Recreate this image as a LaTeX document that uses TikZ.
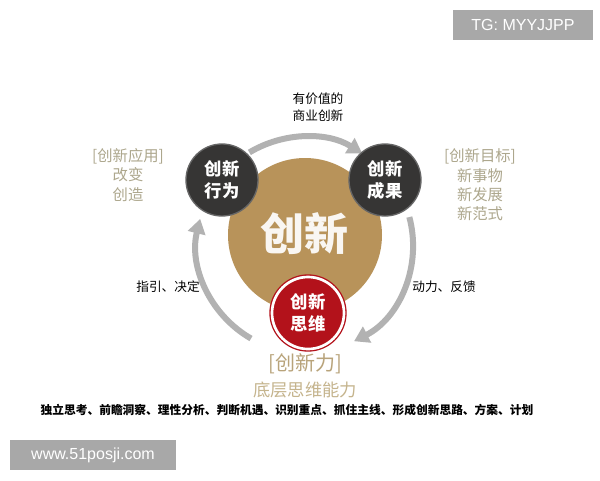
\documentclass[tikz,border=0pt]{standalone}
\usepackage{fontspec}
\setmainfont{Noto Sans CJK SC}
\newfontfamily\latinsans{Liberation Sans}
\usepackage{xcolor}
\usepackage{tikz}
\usetikzlibrary{arrows.meta,positioning}
\definecolor{coregold}{HTML}{B8935A}
\definecolor{darkdisc}{HTML}{363534}
\definecolor{reddisc}{HTML}{B3121B}
\definecolor{tanlabel}{HTML}{ADA78D}
\definecolor{tanforce}{HTML}{B8A37A}
\definecolor{tanbase}{HTML}{C5B48D}
\definecolor{markgray}{HTML}{A8A8A8}

\begin{document}
\begin{tikzpicture}[
    x=0.75pt, y=0.75pt,
    disc/.style={circle, fill=darkdisc, draw=gray!80!black, line width=1pt,
      minimum size=54pt, inner sep=0pt, align=center, text=white,
      font=\bfseries\fontsize{13}{17}\selectfont},
    flow/.style={draw=gray!60, line width=4.5pt,
      -{Triangle[length=11pt,width=13pt]}},
    tag/.style={align=center, text=tanlabel, font=\fontsize{11.5}{14.5}\selectfont},
    note/.style={align=center, font=\fontsize{9.5}{12.5}\selectfont},
    stamp/.style={fill=markgray, text=white, inner sep=0pt,
      font=\latinsans\fontsize{12}{14}\selectfont}
  ]
    \useasboundingbox[fill=white] (0,0) rectangle (600,480);

    % watermarks
    \node[stamp, minimum width=105pt, minimum height=22.5pt] (tg) at (523,455) {TG: MYYJJPP};
    \node[stamp, minimum width=124.5pt, minimum height=22.5pt] (site) at (93,25) {www.51posji.com};

    % core and cycle
    \node[circle, fill=coregold, minimum size=115.5pt] (core) at (305,245) {};
    \node[text=white!92!coregold, font=\bfseries\fontsize{33}{36}\selectfont] (coretext) at (304,246) {创新};
    \coordinate (hub) at (305,235);
    \draw[flow] (hub) ++(121:108) arc[start angle=121, end angle=58, radius=81pt];
    \draw[flow] (hub) ++(15:108) arc[start angle=15, end angle=-63, radius=81pt];
    \draw[flow] (hub) ++(-120:108) arc[start angle=-120, end angle=-194, radius=81pt];

    \node[disc] (act) at (222,300) {创新\\行为};
    \node[disc] (res) at (385,300) {创新\\成果};
    \node[disc, fill=reddisc, draw=white, line width=2pt,
      preaction={draw=reddisc, line width=4pt}] (think) at (308,167) {创新\\思维};

    % labels
    \node[note] (value) at (318,373) {有价值的\\商业创新};
    \node[note] (guide) at (168,193) {指引、决定};
    \node[note] (drive) at (444,193) {动力、反馈};
    \node[tag] (apply) at (128,305) {[创新应用]\\改变\\创造};
    \node[tag] (goal) at (480,295) {[创新目标]\\新事物\\新发展\\新范式};
    \node[text=tanforce, font=\fontsize{15}{18}\selectfont] (force) at (305,116) {[创新力]};
    \node[text=tanbase, font=\fontsize{13}{16}\selectfont] (base) at (305,90) {底层思维能力};
    \node[font=\bfseries\fontsize{8.8}{11}\selectfont] (skills) at (287,70)
      {独立思考、前瞻洞察、理性分析、判断机遇、识别重点、抓住主线、形成创新思路、方案、计划};
  \end{tikzpicture}
\end{document}
